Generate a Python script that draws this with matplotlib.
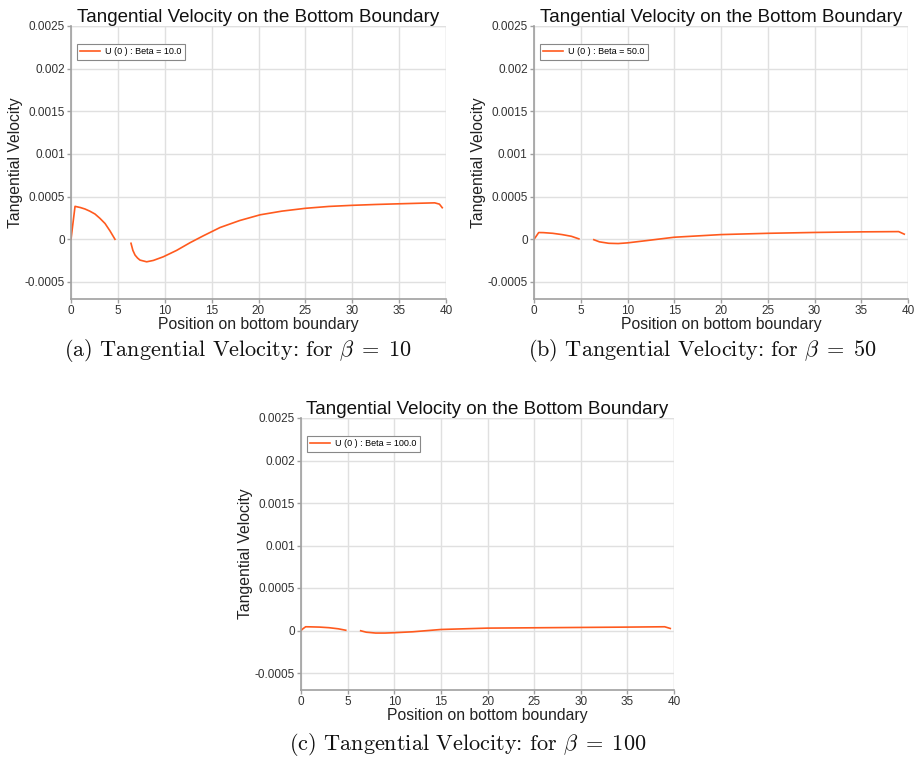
import numpy as np
import matplotlib
matplotlib.use("Agg")
import matplotlib.pyplot as plt

nan = np.nan

# ---- data ----
x_b10 = [0, 0.43, 1, 1.49, 2, 2.56, 3.09, 3.63, 4.16, 4.69, nan,
         6.4, 6.6, 6.83, 7.1, 7.36, 8.07, 8.78, 9.85, 11.27, 12.7, 14.1, 15.9,
         18, 20.18, 22.5, 25, 27.5, 30, 32.5, 35, 37, 38.8, 39.3, 39.6]
y_b10 = [0, 3.86e-4, 3.72e-4, 3.55e-4, 3.3e-4, 2.96e-4, 2.45e-4, 1.85e-4, 0.98e-4, 0.0, nan,
         -0.47e-4, -1.3e-4, -1.85e-4, -2.2e-4, -2.44e-4, -2.64e-4, -2.48e-4, -2.05e-4, -1.3e-4, -0.4e-4, 0.4e-4, 1.38e-4,
         2.2e-4, 2.87e-4, 3.3e-4, 3.63e-4, 3.85e-4, 3.98e-4, 4.08e-4, 4.16e-4, 4.22e-4, 4.27e-4, 4.12e-4, 3.7e-4]

x_b50 = [0, 0.2, 0.5, 1, 2, 3, 4, 4.8, nan,
         6.4, 7, 8, 9, 10, 12, 13.5, 15, 20, 25, 30, 35, 39, 39.6]
y_b50 = [0, 3e-5, 7.9e-5, 7.8e-5, 7.0e-5, 5.5e-5, 3.5e-5, 0.5e-5, nan,
         -0.5e-5, -3e-5, -4.7e-5, -5e-5, -4.2e-5, -1.6e-5, 0.4e-5, 2.4e-5, 5.5e-5, 7e-5, 8e-5, 8.7e-5, 9e-5, 6e-5]

x_b100 = [0, 0.2, 0.5, 1, 2, 3, 4, 4.8, nan,
          6.4, 7, 8, 9, 10, 12, 15, 20, 25, 30, 35, 39, 39.6]
y_b100 = [0, 2e-5, 4.4e-5, 4.3e-5, 4.0e-5, 3.3e-5, 2.0e-5, 0.3e-5, nan,
          -0.3e-5, -2e-5, -3e-5, -3e-5, -2.6e-5, -1.5e-5, 1.2e-5, 2.8e-5, 3.2e-5, 3.6e-5, 4e-5, 4.4e-5, 2.4e-5]

series = [
    (x_b10, y_b10, "U (0 ) : Beta = 10.0", r"(a) Tangential Velocity: for $\beta\;=\;10$"),
    (x_b50, y_b50, "U (0 ) : Beta = 50.0", r"(b) Tangential Velocity: for $\beta\;=\;50$"),
    (x_b100, y_b100, "U (0 ) : Beta = 100.0", r"(c) Tangential Velocity: for $\beta\;=\;100$"),
]

xticks = [0, 5, 10, 15, 20, 25, 30, 35, 40]
yticks = [-0.0005, 0, 0.0005, 0.001, 0.0015, 0.002, 0.0025]
ytick_labels = ["-0.0005", "0", "0.0005", "0.001", "0.0015", "0.002", "0.0025"]

W, H = 914, 760
fig = plt.figure(figsize=(W / 100, H / 100), dpi=100)
plt.rcParams['mathtext.fontset'] = 'cm'

# pixel boxes: left, right, top, bottom
boxes = [(71, 446, 26, 299), (534, 908, 26, 299), (301, 674, 418, 690)]
captions_pos = [(238, 351), (702, 351), (468, 744)]

line_color = "#FF5A1E"
sans = "Liberation Sans"

for (xs, ys, lab, cap), (l, r, t, b), (cx, cy) in zip(series, boxes, captions_pos):
    ax = fig.add_axes([l / W, 1 - b / H, (r - l) / W, (b - t) / H])
    ax.plot(xs, ys, color=line_color, lw=1.2, label=lab)
    ax.set_xlim(0, 40)
    ax.set_ylim(-0.0007, 0.0025)
    ax.set_xticks(xticks)
    ax.set_xticklabels([str(v) for v in xticks])
    ax.set_yticks(yticks)
    ax.set_yticklabels(ytick_labels)
    ax.grid(True, color="#e0e0e0", lw=1.0)
    ax.set_axisbelow(True)
    for s in ["top", "right"]:
        ax.spines[s].set_visible(False)
    for s in ["left", "bottom"]:
        ax.spines[s].set_color("#a0a0a0")
        ax.spines[s].set_linewidth(1.2)
    ax.tick_params(axis="both", colors="#a0a0a0", labelcolor="#333333",
                   labelsize=8.5, length=3, width=1, pad=1.5)
    for tl in ax.get_xticklabels() + ax.get_yticklabels():
        tl.set_fontfamily(sans)
    ax.axvline(40, color="#e0e0e0", lw=1.0, zorder=0)
    ax.axhline(0.0025, color="#e0e0e0", lw=1.0, zorder=0)
    ax.set_title("Tangential Velocity on the Bottom Boundary", fontsize=13.5,
                 family=sans, color="#111111", pad=2)
    ax.set_xlabel("Position on bottom boundary", fontsize=11.3, family=sans,
                  color="#222222", labelpad=0)
    ax.set_ylabel("Tangential Velocity", fontsize=11.3, family=sans,
                  color="#222222", labelpad=1)
    leg = ax.legend(loc="upper left", bbox_to_anchor=(0.015, 0.935), fancybox=False,
                    framealpha=1, edgecolor="#888888",
                    prop={"family": sans, "size": 6.5}, handlelength=2.2,
                    borderpad=0.4, handletextpad=0.5, borderaxespad=0)
    leg.get_frame().set_linewidth(0.8)
    fig.text(cx / W, 1 - cy / H, cap, ha="center", va="center", fontsize=16,
             family="cmr10", color="#111111")

fig.savefig("out.png", dpi=100)
